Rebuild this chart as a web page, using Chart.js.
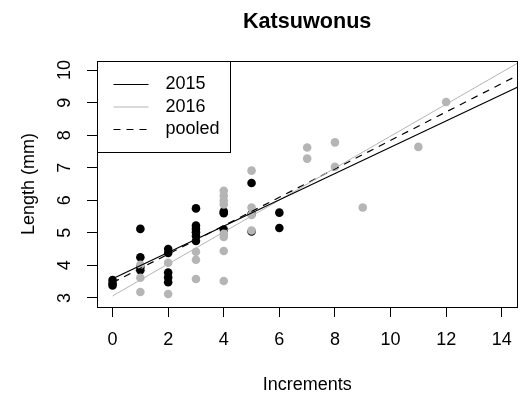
<!DOCTYPE html>
<html>
<head>
<meta charset="utf-8">
<script src="https://cdn.jsdelivr.net/npm/chart.js@4.4.0/dist/chart.umd.min.js"></script>
<style>
  html, body { margin: 0; padding: 0; background: #fff; overflow: hidden; }
  canvas { display: block; }
</style>
</head>
<body>
<canvas id="myChart" width="524" height="402" style="width:524px;height:402px"></canvas>
<script>
// increments (x) and lengths (y)
const inc2015 = [0, 0, 0, 1, 1, 1, 1, 2, 2, 2, 2, 2, 3, 3, 3, 3, 3, 3, 4, 4, 4, 5, 5, 5, 6, 6];
const len2015 = [3.55, 3.45, 3.38, 5.12, 4.25, 3.95, 3.85, 4.50, 4.38, 3.78, 3.63, 3.48,
                 5.75, 5.22, 5.12, 5.02, 4.90, 4.75, 5.65, 5.60, 5.10, 6.53, 5.58, 5.04, 5.62, 5.15];

const inc2016 = [1, 1, 1, 2, 2, 3, 3, 3, 4, 4, 4, 4, 4, 4, 4, 4, 5, 5, 5, 5, 7, 7, 8, 8, 9, 11, 12];
const len2016 = [4.02, 3.62, 3.18, 4.08, 3.12, 4.42, 4.17, 3.58,
                 6.29, 6.14, 5.99, 5.87, 4.97, 4.87, 4.44, 3.52,
                 6.91, 5.78, 5.55, 5.07, 7.62, 7.28, 7.78, 7.03, 5.78, 7.64, 9.02];

// fitted lines: intercept, slope (drawn from increment 0 to the right edge)
const fitNames = ["2015", "2016", "pooled"];
const fitIntercept = [3.59, 3.06, 3.47];
const fitSlope = [0.404, 0.491, 0.437];

const xTicks = [0, 2, 4, 6, 8, 10, 12, 14];
const yTicks = [3, 4, 5, 6, 7, 8, 9, 10];
const xMin = -0.56, xMax = 14.56;
const yMin = 2.72, yMax = 10.28;

const GREY = "#b5b5b5";
const FONT = "'Liberation Sans', Arial, Helvetica, sans-serif";

function pts(xs, ys) {
  return xs.map((x, i) => ({ x: x, y: ys[i] }));
}
function fitLine(i) {
  return [0, xMax].map(x => ({ x: x, y: fitIntercept[i] + fitSlope[i] * x }));
}

const lineStyles = [
  { color: "#000", width: 1.2, dash: [] },
  { color: GREY, width: 1, dash: [] },
  { color: "#000", width: 1.2, dash: [7, 6] }
];

// R style box + legend drawn on top
const boxAndLegend = {
  id: "boxAndLegend",
  afterDraw(chart) {
    const ctx = chart.ctx;
    const a = chart.chartArea;
    ctx.save();
    ctx.strokeStyle = "#000";
    ctx.lineWidth = 1;
    ctx.setLineDash([]);
    ctx.strokeRect(Math.round(a.left) + 0.5, Math.round(a.top) + 0.5,
                   Math.round(a.right - a.left), Math.round(a.bottom - a.top));

    // legend
    const lx = Math.round(a.left) + 0.5, ly = Math.round(a.top) + 0.5;
    ctx.strokeRect(lx, ly, 133, 91);
    ctx.font = "18px " + FONT;
    ctx.textBaseline = "middle";
    ctx.textAlign = "left";
    ctx.fillStyle = "#000";
    fitNames.forEach((name, i) => {
      const y = ly + 23 + i * 22.5;
      const s = lineStyles[i];
      ctx.beginPath();
      ctx.strokeStyle = s.color;
      ctx.lineWidth = s.width;
      ctx.setLineDash(s.dash);
      ctx.moveTo(lx + 16, y);
      ctx.lineTo(lx + 51, y);
      ctx.stroke();
      ctx.fillText(name, lx + 68, y);
    });
    ctx.restore();
  }
};

const ctx = document.getElementById("myChart").getContext("2d");
new Chart(ctx, {
  type: "scatter",
  data: {
    datasets: [
      ...fitNames.map((name, i) => ({
        label: name,
        type: "line",
        data: fitLine(i),
        borderColor: lineStyles[i].color,
        borderWidth: lineStyles[i].width,
        borderDash: lineStyles[i].dash,
        pointRadius: 0,
        fill: false,
        clip: 0,
        order: 0
      })),
      {
        label: "2016 points",
        data: pts(inc2016, len2016),
        backgroundColor: GREY,
        borderWidth: 0,
        pointRadius: 4.3,
        order: 1
      },
      {
        label: "2015 points",
        data: pts(inc2015, len2015),
        backgroundColor: "#000",
        borderWidth: 0,
        pointRadius: 4.3,
        order: 2
      }
    ]
  },
  options: {
    responsive: false,
    animation: false,
    devicePixelRatio: 1,
    layout: { padding: 0 },
    plugins: {
      legend: { display: false },
      tooltip: { enabled: false },
      title: {
        display: true,
        text: "Katsuwonus",
        color: "#000",
        fullSize: false,
        font: { family: FONT, size: 21.6, weight: "bold" },
        padding: { top: 9, bottom: 26.08 }
      }
    },
    scales: {
      x: {
        type: "linear",
        min: xMin,
        max: xMax,
        afterBuildTicks: s => { s.ticks = xTicks.map(v => ({ value: v })); },
        afterFit: s => { s.height = 95; },
        grid: { display: true, drawOnChartArea: false, drawTicks: true, tickLength: 10, color: "#000", tickColor: "#000" },
        border: { display: false },
        ticks: { color: "#000", padding: 12, maxRotation: 0, font: { family: FONT, size: 18 } },
        title: { display: true, text: "Increments", color: "#000", font: { family: FONT, size: 18 }, padding: { top: 0, bottom: 6.2 } }
      },
      y: {
        type: "linear",
        min: yMin,
        max: yMax,
        afterBuildTicks: s => { s.ticks = yTicks.map(v => ({ value: v })); },
        afterFit: s => { s.width = 97; },
        grid: { display: true, drawOnChartArea: false, drawTicks: true, tickLength: 10, color: "#000", tickColor: "#000" },
        border: { display: false },
        ticks: { color: "#000", padding: 12, minRotation: 90, maxRotation: 90, crossAlign: "center", font: { family: FONT, size: 18 } },
        title: { display: true, text: "Length (mm)", color: "#000", font: { family: FONT, size: 18 }, padding: { top: 18, bottom: 0 } }
      }
    }
  },
  plugins: [boxAndLegend]
});
</script>
</body>
</html>
